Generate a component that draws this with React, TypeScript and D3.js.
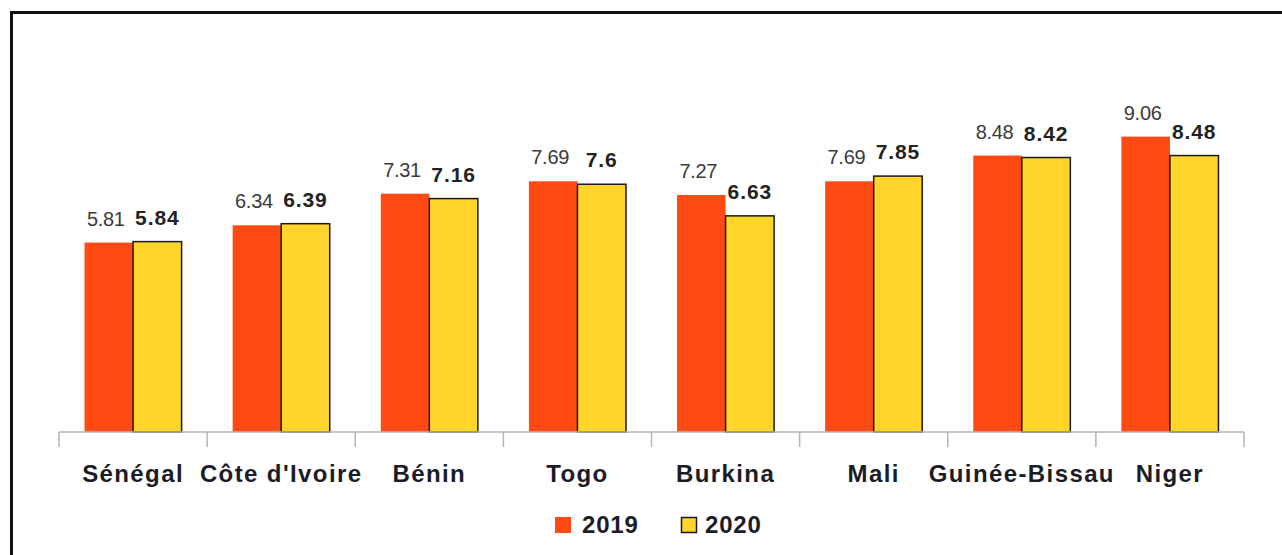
import React from "react";
import * as d3 from "d3";

const categories = ["Sénégal", "Côte d'Ivoire", "Bénin", "Togo", "Burkina", "Mali", "Guinée-Bissau", "Niger"];
const series = ["2019", "2020"];
const values2019 = [5.81, 6.34, 7.31, 7.69, 7.27, 7.69, 8.48, 9.06];
const values2020 = [5.84, 6.39, 7.16, 7.6, 6.63, 7.85, 8.42, 8.48];
const labels2019 = ["5.81", "6.34", "7.31", "7.69", "7.27", "7.69", "8.48", "9.06"];
const labels2020 = ["5.84", "6.39", "7.16", "7.6", "6.63", "7.85", "8.42", "8.48"];

const W = 1282;
const H = 555;
const FONT = "'Liberation Sans', Arial, sans-serif";
const ORANGE = "#FF4A14";
const YELLOW = "#FFD52B";

export default function App() {
  const x = d3.scaleBand<string>().domain(categories).range([59, 1244]).paddingInner(0).paddingOuter(0);
  const xs = d3.scaleBand<string>().domain(series).range([0, x.step()]).paddingInner(0).paddingOuter(0.526);
  const y = d3.scaleLinear().domain([0, 10]).range([432, 106]);
  const baseY = y(0);
  const tickXs = categories.map((c) => x(c) as number).concat([(x(categories[categories.length - 1]) as number) + x.step()]);

  const data = [
    { key: "2019", vals: values2019, labels: labels2019, fill: ORANGE, stroke: "none", weight: 400, color: "#3a3a3a", size: 20, ls: -0.3, dx: -3 },
    { key: "2020", vals: values2020, labels: labels2020, fill: YELLOW, stroke: "#1a1a1a", weight: 700, color: "#222", size: 21, ls: 0.9, dx: 0 },
  ];

  return (
    <svg width={W} height={H} style={{ position: "absolute", left: 0, top: 0, background: "#fff" }} fontFamily={FONT}>
      <rect x={0} y={0} width={W} height={H} fill="#fff" />
      <path d={`M11.5,${H + 5} L11.5,12.5 L${W + 5},12.5`} fill="none" stroke="#111" strokeWidth={3} />

      {data.map((s) => (
        <g key={s.key}>
          {categories.map((c, i) => {
            const bx = (x(c) as number) + (xs(s.key) as number);
            const bw = xs.bandwidth();
            const top = y(s.vals[i]);
            return (
              <g key={c}>
                <rect
                  x={bx}
                  y={top}
                  width={bw}
                  height={baseY - top}
                  fill={s.fill}
                  stroke={s.stroke}
                  strokeWidth={s.stroke === "none" ? 0 : 1.5}
                />
                <text
                  x={bx + bw / 2 + s.dx}
                  y={top - 17}
                  textAnchor="middle"
                  fontSize={s.size}
                  fontWeight={s.weight}
                  letterSpacing={s.ls}
                  fill={s.color}
                >
                  {s.labels[i]}
                </text>
              </g>
            );
          })}
        </g>
      ))}

      <line x1={tickXs[0]} x2={tickXs[tickXs.length - 1]} y1={baseY} y2={baseY} stroke="#b5b5b5" strokeWidth={1.5} />
      {tickXs.map((tx, i) => (
        <line key={i} x1={tx} x2={tx} y1={baseY} y2={baseY + 15} stroke="#b5b5b5" strokeWidth={1.5} />
      ))}

      {categories.map((c) => (
        <text
          key={c}
          x={(x(c) as number) + x.step() / 2}
          y={482}
          textAnchor="middle"
          fontSize={24}
          fontWeight={700}
          letterSpacing={1.4}
          fill="#1c1c28"
        >
          {c}
        </text>
      ))}

      <rect x={555} y={517} width={16} height={16} fill={ORANGE} />
      <text x={582} y={533} fontSize={24} fontWeight={700} fill="#1c1c28" letterSpacing={0.8}>2019</text>
      <rect x={681.5} y={517.5} width={15} height={15} fill={YELLOW} stroke="#1a1a1a" strokeWidth={1.5} />
      <text x={705} y={533} fontSize={24} fontWeight={700} fill="#1c1c28" letterSpacing={0.8}>2020</text>
    </svg>
  );
}
